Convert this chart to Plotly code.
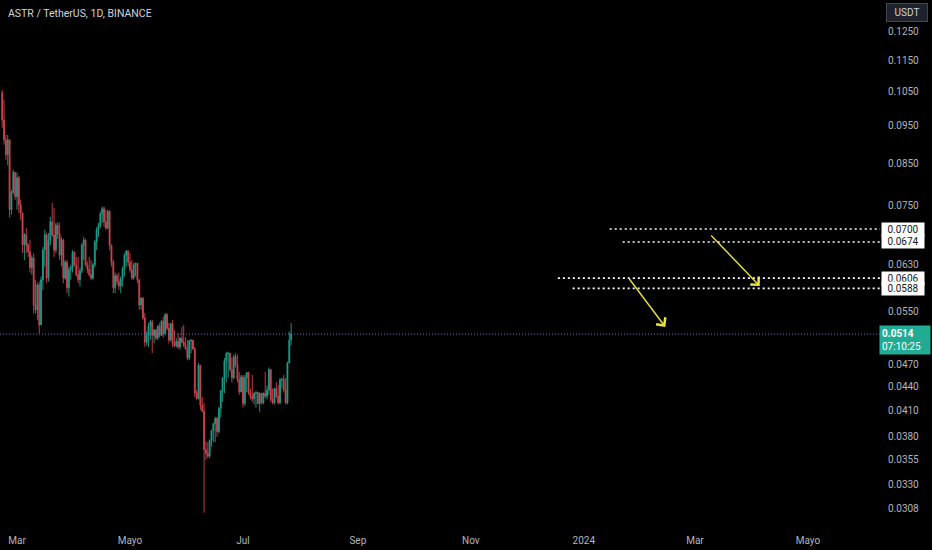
import numpy as np
import pandas as pd
import plotly.graph_objects as go

# daily candles, open = previous close
first_open = 0.1045
close = [
    0.0965, 0.0910, 0.0871, 0.0910, 0.0741, 0.0780, 0.0827, 0.0770, 0.0814, 0.0752,
    0.0734, 0.0668, 0.0688, 0.0668, 0.0655, 0.0625, 0.0643, 0.0560, 0.0552, 0.0594,
    0.0528, 0.0603, 0.0658, 0.0688, 0.0606, 0.0678, 0.0715, 0.0688, 0.0658, 0.0708,
    0.0690, 0.0648, 0.0678, 0.0606, 0.0635, 0.0589, 0.0621, 0.0625, 0.0654, 0.0630,
    0.0612, 0.0603, 0.0619, 0.0668, 0.0678, 0.0630, 0.0622, 0.0612, 0.0606, 0.0630,
    0.0674, 0.0698, 0.0708, 0.0732, 0.0743, 0.0715, 0.0702, 0.0737, 0.0668, 0.0635,
    0.0589, 0.0610, 0.0600, 0.0592, 0.0605, 0.0623, 0.0648, 0.0656, 0.0635, 0.0621,
    0.0606, 0.0630, 0.0633, 0.0603, 0.0560, 0.0571, 0.0539, 0.0502, 0.0512, 0.0526,
    0.0533, 0.0512, 0.0520, 0.0508, 0.0526, 0.0512, 0.0534, 0.0515, 0.0544, 0.0523,
    0.0505, 0.0530, 0.0500, 0.0497, 0.0503, 0.0495, 0.0508, 0.0502, 0.0497, 0.0492,
    0.0479, 0.0504, 0.0505, 0.0492, 0.0432, 0.0425, 0.0469, 0.0417, 0.0410, 0.0366,
    0.0362, 0.0359, 0.0376, 0.0387, 0.0395, 0.0401, 0.0386, 0.0413, 0.0435, 0.0452,
    0.0475, 0.0485, 0.0486, 0.0463, 0.0452, 0.0481, 0.0470, 0.0450, 0.0434, 0.0453,
    0.0419, 0.0452, 0.0459, 0.0433, 0.0428, 0.0425, 0.0432, 0.0433, 0.0419, 0.0432,
    0.0420, 0.0432, 0.0428, 0.0436, 0.0463, 0.0424, 0.0420, 0.0438, 0.0428, 0.0420,
    0.0449, 0.0450, 0.0436, 0.0420, 0.0472, 0.0505, 0.0514,
]
high = [
    0.1054, 0.1023, 0.0923, 0.0923, 0.0897, 0.0785, 0.0833, 0.0827, 0.0827, 0.0819,
    0.0763, 0.0730, 0.0692, 0.0702, 0.0672, 0.0678, 0.0648, 0.0652, 0.0603, 0.0598,
    0.0600, 0.0609, 0.0664, 0.0698, 0.0692, 0.0692, 0.0726, 0.0756, 0.0745, 0.0713,
    0.0715, 0.0713, 0.0684, 0.0680, 0.0639, 0.0639, 0.0627, 0.0630, 0.0658, 0.0656,
    0.0645, 0.0645, 0.0625, 0.0672, 0.0684, 0.0680, 0.0636, 0.0645, 0.0639, 0.0634,
    0.0678, 0.0704, 0.0713, 0.0737, 0.0748, 0.0748, 0.0741, 0.0741, 0.0740, 0.0668,
    0.0639, 0.0616, 0.0614, 0.0616, 0.0609, 0.0627, 0.0652, 0.0658, 0.0658, 0.0652,
    0.0639, 0.0634, 0.0634, 0.0634, 0.0603, 0.0573, 0.0573, 0.0547, 0.0518, 0.0531,
    0.0536, 0.0536, 0.0522, 0.0522, 0.0528, 0.0531, 0.0536, 0.0541, 0.0547, 0.0547,
    0.0531, 0.0531, 0.0536, 0.0520, 0.0508, 0.0515, 0.0509, 0.0525, 0.0528, 0.0509,
    0.0505, 0.0505, 0.0506, 0.0505, 0.0495, 0.0436, 0.0472, 0.0469, 0.0427, 0.0420,
    0.0375, 0.0374, 0.0377, 0.0388, 0.0396, 0.0403, 0.0403, 0.0415, 0.0436, 0.0453,
    0.0479, 0.0488, 0.0488, 0.0486, 0.0479, 0.0484, 0.0486, 0.0484, 0.0460, 0.0456,
    0.0456, 0.0456, 0.0460, 0.0460, 0.0438, 0.0456, 0.0433, 0.0435, 0.0433, 0.0433,
    0.0432, 0.0433, 0.0460, 0.0442, 0.0466, 0.0463, 0.0438, 0.0439, 0.0446, 0.0442,
    0.0452, 0.0452, 0.0456, 0.0452, 0.0474, 0.0518, 0.0531,
]
low = [
    0.0943, 0.0897, 0.0858, 0.0845, 0.0724, 0.0730, 0.0776, 0.0763, 0.0741, 0.0734,
    0.0719, 0.0652, 0.0639, 0.0652, 0.0645, 0.0616, 0.0612, 0.0546, 0.0546, 0.0536,
    0.0515, 0.0528, 0.0585, 0.0627, 0.0597, 0.0600, 0.0668, 0.0684, 0.0645, 0.0652,
    0.0680, 0.0639, 0.0627, 0.0597, 0.0603, 0.0580, 0.0574, 0.0603, 0.0616, 0.0627,
    0.0609, 0.0597, 0.0591, 0.0615, 0.0639, 0.0627, 0.0615, 0.0609, 0.0603, 0.0603,
    0.0626, 0.0658, 0.0684, 0.0702, 0.0713, 0.0704, 0.0698, 0.0700, 0.0658, 0.0627,
    0.0580, 0.0580, 0.0594, 0.0585, 0.0580, 0.0591, 0.0609, 0.0627, 0.0627, 0.0616,
    0.0603, 0.0603, 0.0609, 0.0597, 0.0552, 0.0552, 0.0536, 0.0495, 0.0497, 0.0495,
    0.0505, 0.0486, 0.0500, 0.0505, 0.0505, 0.0509, 0.0512, 0.0509, 0.0512, 0.0520,
    0.0500, 0.0503, 0.0495, 0.0495, 0.0494, 0.0492, 0.0491, 0.0500, 0.0495, 0.0491,
    0.0476, 0.0476, 0.0486, 0.0491, 0.0427, 0.0424, 0.0424, 0.0411, 0.0408, 0.0304,
    0.0355, 0.0357, 0.0357, 0.0369, 0.0374, 0.0374, 0.0380, 0.0384, 0.0402, 0.0421,
    0.0432, 0.0446, 0.0452, 0.0460, 0.0446, 0.0450, 0.0466, 0.0446, 0.0430, 0.0433,
    0.0414, 0.0416, 0.0433, 0.0430, 0.0424, 0.0421, 0.0418, 0.0414, 0.0418, 0.0409,
    0.0418, 0.0418, 0.0426, 0.0424, 0.0430, 0.0421, 0.0418, 0.0418, 0.0426, 0.0418,
    0.0418, 0.0438, 0.0433, 0.0418, 0.0418, 0.0474, 0.0497,
]
open_ = [first_open] + close[:-1]
dates = pd.date_range("2023-02-21", periods=len(close), freq="D")

# drawings
levels = [0.0700, 0.0674, 0.0606, 0.0588]
level_starts = ["2024-01-15", "2024-01-22", "2023-12-18", "2023-12-26"]
arrow_tails = [("2024-01-25", 0.0607), ("2024-03-09", 0.0690)]
arrow_heads = [("2024-02-14", 0.0525), ("2024-04-05", 0.0592)]
last_price = 0.0514
countdown = "07:10:25"

price_ticks = [0.1250, 0.1150, 0.1050, 0.0950, 0.0850, 0.0750, 0.0630, 0.0550,
               0.0470, 0.0440, 0.0410, 0.0380, 0.0355, 0.0330, 0.0308]
time_ticks = ["2023-03-01", "2023-05-01", "2023-07-01", "2023-09-01",
              "2023-11-01", "2024-01-01", "2024-03-01", "2024-05-01"]
time_labels = ["Mar", "Mayo", "Jul", "Sep", "Nov", "2024", "Mar", "Mayo"]
x_range = ["2023-02-19 19:40", "2024-06-08 22:00"]
y_range = [0.02906, 0.1373]

FONT = "Roboto"
UP = "#1f9e8b"
DOWN = "#d2434e"

fig = go.Figure()
fig.add_trace(go.Candlestick(
    x=dates, open=open_, high=high, low=low, close=close,
    increasing=dict(line=dict(color=UP, width=0.9), fillcolor=UP),
    decreasing=dict(line=dict(color=DOWN, width=0.9), fillcolor=DOWN),
    whiskerwidth=0, hoverinfo="skip", showlegend=False,
))

for lvl, start in zip(levels, level_starts):
    fig.add_trace(go.Scatter(
        x=[start, x_range[1]], y=[lvl, lvl], mode="lines",
        line=dict(color="#ffffff", width=1.6, dash="2px,3px"),
        hoverinfo="skip", showlegend=False,
    ))

fig.add_shape(type="line", xref="paper", x0=0, x1=1, yref="y",
              y0=last_price, y1=last_price,
              line=dict(color="#7077c8", width=1, dash="1px,2px"))

annotations = []
for (tx, ty), (hx, hy) in zip(arrow_tails, arrow_heads):
    annotations.append(dict(
        x=hx, y=np.log10(hy), ax=tx, ay=np.log10(ty), xref="x", yref="y",
        axref="x", ayref="y", text="", showarrow=True, arrowhead=4,
        arrowsize=1.6, arrowwidth=1.4, arrowcolor="#ece23e",
    ))

for lvl in levels:
    annotations.append(dict(
        x=1, xref="paper", xanchor="left", xshift=1, y=np.log10(lvl), yref="y",
        text=f"{lvl:.4f}", showarrow=False, bgcolor="#ffffff",
        font=dict(family=FONT, size=10, color="#131722"), borderpad=1,
        width=40,
    ))

annotations.append(dict(
    x=1, xref="paper", xanchor="left", xshift=-1, y=np.log10(last_price), yref="y",
    yanchor="top", yshift=9,
    text=f"<b>{last_price:.4f}</b><br>{countdown}", showarrow=False,
    bgcolor="#22ab94", font=dict(family=FONT, size=10, color="#ffffff"),
    borderpad=2, align="left", width=46,
))

annotations.append(dict(
    x=0, xref="paper", xanchor="left", xshift=6, y=1, yref="paper",
    yanchor="top", yshift=-5, text="ASTR / TetherUS, 1D, BINANCE",
    showarrow=False, font=dict(family=FONT, size=10.5, color="#d1d4dc"),
))

annotations.append(dict(
    x=1, xref="paper", xanchor="left", xshift=6, y=1, yref="paper",
    yanchor="top", yshift=-3, text="USDT", showarrow=False,
    bgcolor="#1e222d", bordercolor="#434651", borderwidth=1, borderpad=3,
    font=dict(family=FONT, size=10, color="#d1d4dc"), width=34,
))

fig.update_layout(
    width=932, height=550,
    margin=dict(l=0, r=52, t=0, b=22),
    paper_bgcolor="#000000", plot_bgcolor="#000000",
    font=dict(family=FONT, size=10, color="#b2b5be"),
    annotations=annotations,
    hovermode=False,
    xaxis=dict(
        type="date", range=x_range, rangeslider=dict(visible=False),
        tickvals=time_ticks, ticktext=time_labels,
        showgrid=False, zeroline=False, showline=False, ticks="",
        ticklabelstandoff=5,
        tickfont=dict(family=FONT, size=10, color="#b2b5be"),
    ),
    yaxis=dict(
        type="log", side="right", range=list(np.log10(y_range)),
        tickvals=price_ticks, ticktext=[f"{v:.4f}" for v in price_ticks],
        showgrid=False, zeroline=False, showline=False, ticks="",
        ticklabelstandoff=7,
        tickfont=dict(family=FONT, size=10, color="#b2b5be"),
    ),
)

# the page has a default body margin, drop it so the chart fills the window
fig.write_html("out.html", config={"displayModeBar": False},
               post_script="document.body.style.margin='0';")
